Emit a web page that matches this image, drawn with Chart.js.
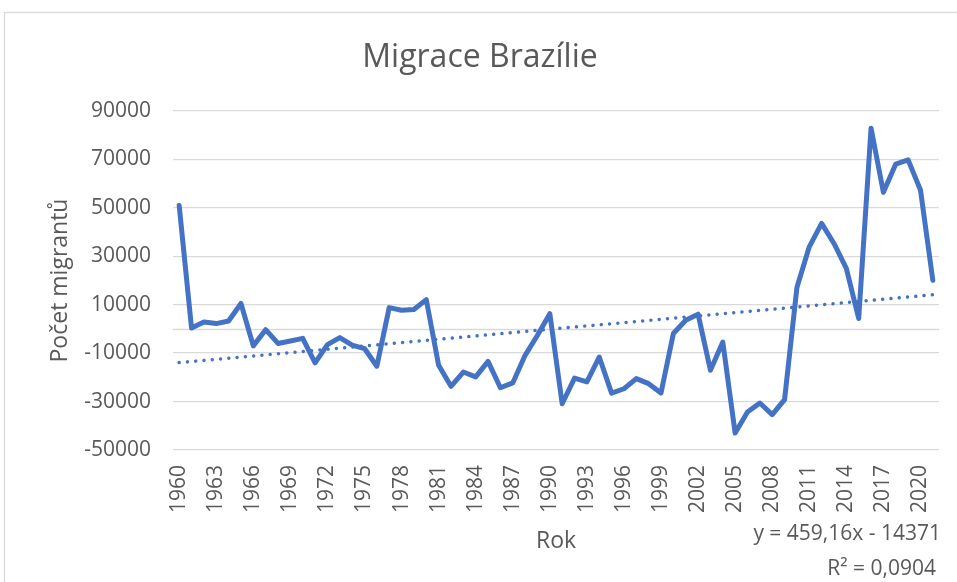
<!DOCTYPE html>
<html>
<head>
<meta charset="utf-8">
<script src="https://cdn.jsdelivr.net/npm/chart.js@4.4.1/dist/chart.umd.min.js"></script>
<style>
  html, body { margin: 0; padding: 0; background: #ffffff; }
  #wrap { width: 957px; height: 582px; position: relative; }
</style>
</head>
<body>
<div id="wrap"><canvas id="c" width="957" height="582"></canvas></div>
<script>
// ---- data ----
const years = [];
for (let y = 1960; y <= 2021; y++) years.push(String(y));

const migrants = [
  51000, 400, 2900, 2200, 3300, 10500, -7000, -300, -6000, -5000,
  -3900, -14000, -6500, -3600, -6700, -8100, -15400, 8800, 7700, 8000,
  12100, -15000, -23700, -17800, -19800, -13400, -24300, -22300, -10900, -2600,
  6300, -30900, -20300, -21900, -11600, -26500, -24700, -20500, -22600, -26500,
  -1900, 3600, 6100, -17100, -5400, -43000, -34300, -30600, -35400, -29200,
  17100, 33900, 43600, 35300, 25000, 4300, 82900, 56400, 68100, 69800,
  57400, 20100
];

// linear trendline as stated on the chart: y = 459,16x - 14371 (x = 1..n)
const trendSlope = 459.16;
const trendIntercept = -14371;
const trend = years.map((_, i) => trendSlope * (i + 1) + trendIntercept);

const yTicks = { min: -50000, max: 90000, step: 20000 };
const titleText = 'Migrace Brazílie';
const yTitle = 'Počet migrantů';
const xTitle = 'Rok';
const eqText = 'y = 459,16x - 14371';
const r2Text = 'R² = 0,0904';

// ---- styling ----
const FONT = '"Open Sans", "Liberation Sans", sans-serif';
const TXT = '#595959';
const GRID = '#d9d9d9';
const BLUE = '#4472C4';

const decorPlugin = {
  id: 'decor',
  beforeDraw(chart) {
    const ctx = chart.ctx;
    ctx.save();
    ctx.fillStyle = '#ffffff';
    ctx.fillRect(0, 0, chart.width, chart.height);
    ctx.strokeStyle = GRID;
    ctx.lineWidth = 1.3;
    ctx.strokeRect(4.5, 12.5, chart.width + 10, chart.height + 10);
    ctx.restore();
  },
  beforeDatasetsDraw(chart) {
    const ctx = chart.ctx;
    const ys = chart.scales.y;
    const a = chart.chartArea;
    const y0 = Math.round(ys.getPixelForValue(0)) + 0.5;
    ctx.save();
    ctx.strokeStyle = GRID;
    ctx.lineWidth = 1.3;
    ctx.beginPath();
    ctx.moveTo(a.left, y0);
    ctx.lineTo(a.right, y0);
    ctx.stroke();
    ctx.restore();
  },
  afterDraw(chart) {
    const ctx = chart.ctx;
    ctx.save();
    ctx.fillStyle = TXT;
    ctx.font = '21px ' + FONT;
    ctx.textAlign = 'right';
    ctx.textBaseline = 'middle';
    ctx.fillText(eqText, 941, 534);
    ctx.fillText(r2Text, 936, 569);
    ctx.restore();
  }
};

new Chart(document.getElementById('c'), {
  type: 'line',
  data: {
    labels: years,
    datasets: [
      {
        label: 'Migrace',
        data: migrants,
        borderColor: BLUE,
        borderWidth: 5,
        pointRadius: 0,
        tension: 0,
        borderJoinStyle: 'round',
        borderCapStyle: 'round',
        fill: false
      },
      {
        label: 'Trend',
        data: trend,
        borderColor: BLUE,
        borderWidth: 3.5,
        borderDash: [0.01, 8.3],
        borderCapStyle: 'round',
        pointRadius: 0,
        tension: 0,
        fill: false
      }
    ]
  },
  options: {
    responsive: false,
    animation: false,
    devicePixelRatio: 1,
    layout: { padding: { left: 21, right: 18, top: 0, bottom: 0 } },
    plugins: {
      legend: { display: false },
      tooltip: { enabled: false },
      title: {
        display: true,
        text: titleText,
        color: TXT,
        font: { family: FONT, size: 32, weight: 'normal', lineHeight: 1.2 },
        padding: { top: 39, bottom: 33.6 }
      }
    },
    scales: {
      x: {
        type: 'category',
        offset: true,
        grid: { display: false, drawTicks: false },
        border: { display: false },
        ticks: {
          autoSkip: false,
          maxRotation: 90,
          minRotation: 90,
          padding: 15,
          color: TXT,
          font: { family: FONT, size: 21 },
          callback: function (val, i) { return i % 3 === 0 ? years[i] : ''; }
        },
        title: {
          display: true,
          text: xTitle,
          color: TXT,
          font: { family: FONT, size: 23 },
          padding: { top: 27, bottom: 27 }
        },
        afterFit(scale) {
          scale.height = 132;
          scale.paddingLeft = 0;
          scale.paddingRight = 0;
        }
      },
      y: {
        min: yTicks.min,
        max: yTicks.max,
        grid: { color: GRID, lineWidth: 1.3, drawTicks: false },
        border: { display: false },
        ticks: {
          stepSize: yTicks.step,
          padding: 22,
          color: TXT,
          font: { family: FONT, size: 21 },
          callback: v => String(v)
        },
        title: {
          display: true,
          text: yTitle,
          color: TXT,
          font: { family: FONT, size: 23 },
          padding: { top: 25.6, bottom: 25.6 }
        },
        afterFit(scale) {
          scale.width = 152;
          scale.paddingTop = 0;
          scale.paddingBottom = 0;
        }
      }
    }
  },
  plugins: [decorPlugin]
});
</script>
</body>
</html>
